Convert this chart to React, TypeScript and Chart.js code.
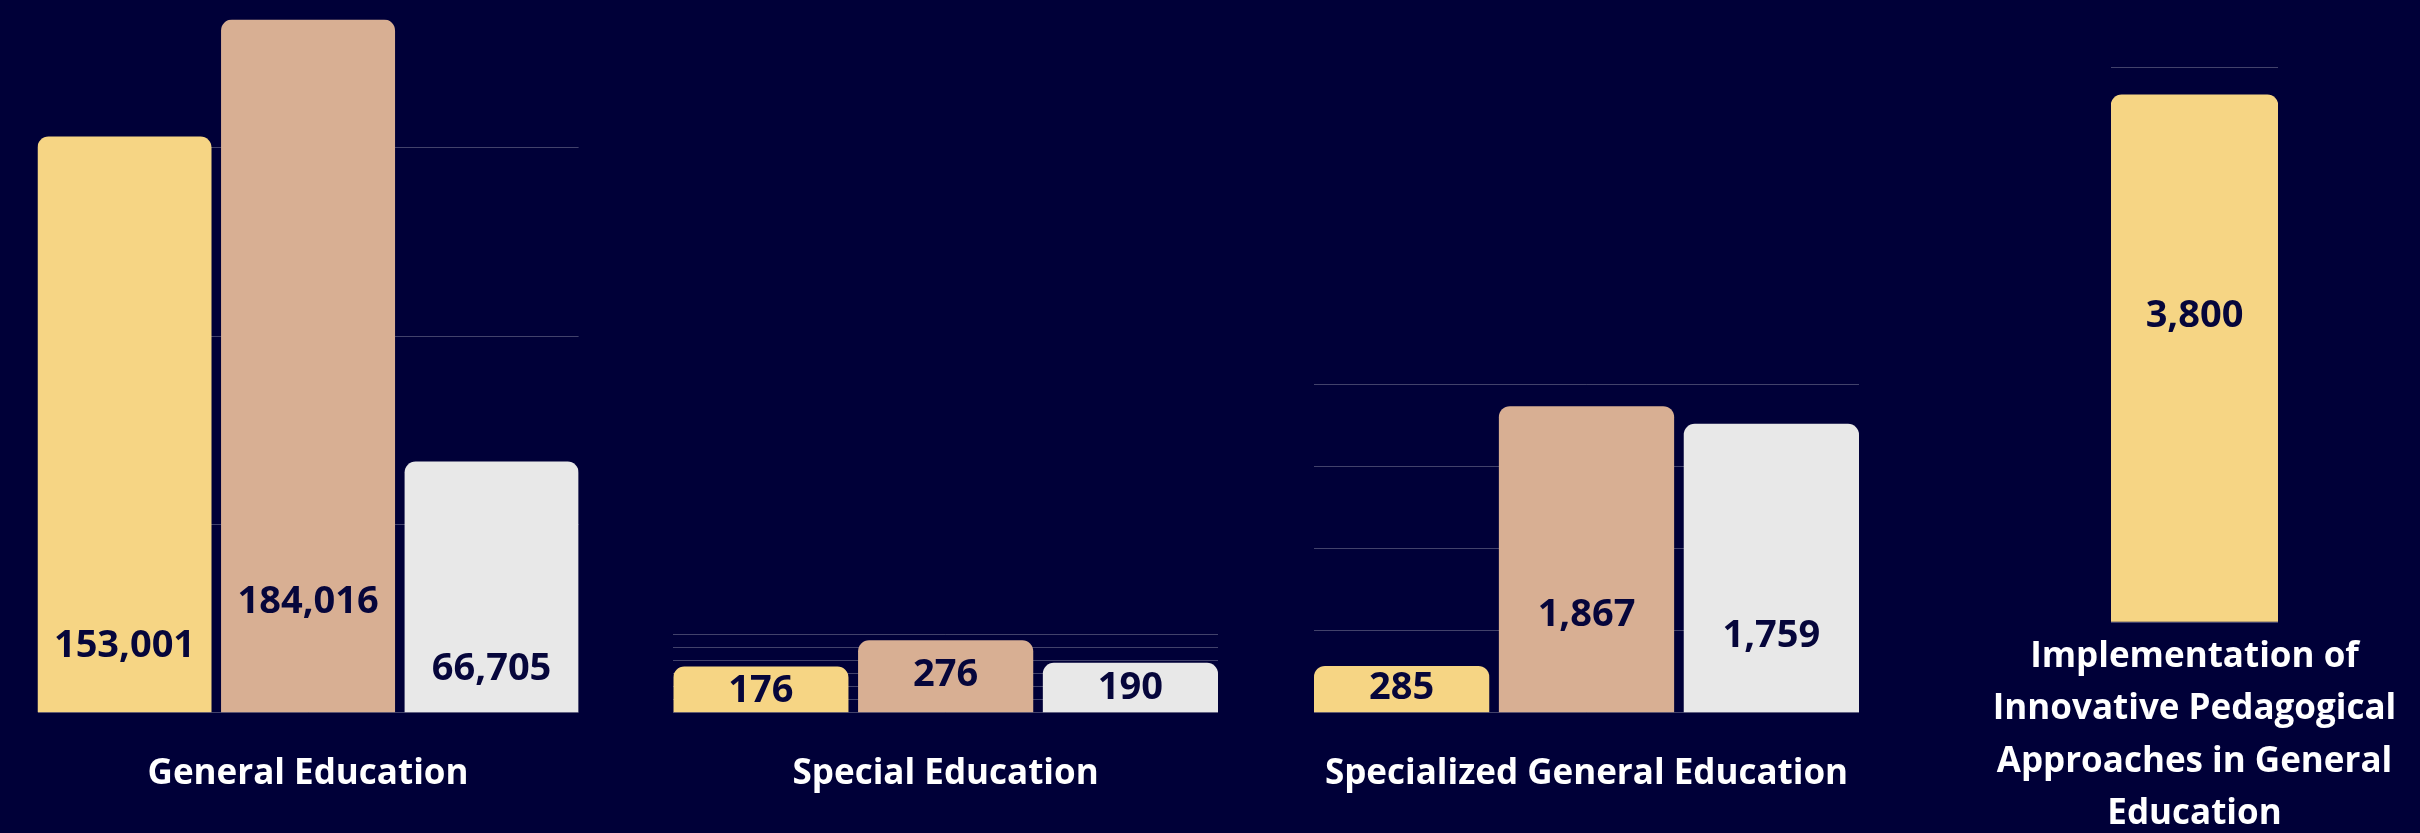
import React, { useEffect, useRef } from "react";
import { Chart, registerables } from "chart.js";

Chart.register(...registerables);

// ---------- data ----------
const seriesColors = ["#F6D584", "#D8AF93", "#E8E8E8"];

const generalCategories = ["General Education"];
const generalValues = [153001, 184016, 66705];

const specialCategories = ["Special Education"];
const specialValues = [176, 276, 190];

const specializedCategories = ["Specialized General Education"];
const specializedValues = [285, 1867, 1759];

const innovativeCategories = [["Implementation of", "Innovative Pedagogical", "Approaches in General", "Education"]];
const innovativeValues = [3800];

// ---------- style / layout ----------
const BG = "#000038";
const GRID = "rgba(255,255,255,0.26)";
const VALUE_TEXT = "#06063b";
const FONT = "'Open Sans', 'Noto Sans', sans-serif";
const LABEL_SIZE = 35;
const VALUE_SIZE = 38;
const LINE_HEIGHT = 52.5;
const GAP_RATIO = 0.052;
const CANVAS_H = 1000;
const AXIS_H = 260;

type Panel = {
  categories: (string | string[])[];
  values: number[];
  colors: string[];
  yMax: number;
  yStep: number;
  left: number;
  right: number;
  top: number;
  bottom: number;
  canvasLeft: number;
  canvasRight: number;
  tickPad: number;
  labelAt: number[]; // fraction of bar height where value label sits
};

const panels: Panel[] = [
  {
    categories: generalCategories,
    values: generalValues,
    colors: seriesColors,
    yMax: Math.max(...generalValues),
    yStep: 50000,
    left: 37.5,
    right: 578.6,
    top: 19.6,
    bottom: 712.7,
    canvasLeft: 0,
    canvasRight: 625,
    tickPad: 35.5,
    labelAt: [0.12, 0.163, 0.181],
  },
  {
    categories: specialCategories,
    values: specialValues,
    colors: seriesColors,
    yMax: 300,
    yStep: 50,
    left: 673.3,
    right: 1218,
    top: 634,
    bottom: 712.7,
    canvasLeft: 630,
    canvasRight: 1262,
    tickPad: 35.5,
    labelAt: [0.517, 0.553, 0.547],
  },
  {
    categories: specializedCategories,
    values: specializedValues,
    colors: seriesColors,
    yMax: 2000,
    yStep: 500,
    left: 1314,
    right: 1859,
    top: 384.3,
    bottom: 712.7,
    canvasLeft: 1268,
    canvasRight: 1905,
    tickPad: 35.5,
    labelAt: [0.577, 0.327, 0.273],
  },
  {
    categories: innovativeCategories,
    values: innovativeValues,
    colors: [seriesColors[0]],
    yMax: 4000,
    yStep: 1000,
    left: 2111,
    right: 2278,
    top: 67,
    bottom: 622,
    canvasLeft: 1911,
    canvasRight: 2420,
    tickPad: 8.5,
    labelAt: [0.584],
  },
];

const valueLabelPlugin = {
  id: "valueLabels",
  afterDatasetsDraw(chart: any, _args: any, opts: any) {
    const ctx = chart.ctx;
    const at: number[] = opts.labelAt || [];
    ctx.save();
    ctx.font = `bold ${VALUE_SIZE}px ${FONT}`;
    ctx.fillStyle = VALUE_TEXT;
    ctx.textAlign = "center";
    ctx.textBaseline = "alphabetic";
    const asc = ctx.measureText("0").actualBoundingBoxAscent;
    chart.data.datasets.forEach((ds: any, di: number) => {
      const meta = chart.getDatasetMeta(di);
      meta.data.forEach((bar: any, idx: number) => {
        const v = ds.data[idx];
        if (v == null) return;
        const f = at[di] ?? 0.5;
        const cy = bar.base - f * (bar.base - bar.y);
        ctx.fillText(Number(v).toLocaleString("en-US"), bar.x, cy + asc / 2);
      });
    });
    ctx.restore();
  },
};

function PanelChart({ p }: { p: Panel }) {
  const ref = useRef<HTMLCanvasElement>(null);
  const width = p.canvasRight - p.canvasLeft;
  useEffect(() => {
    const canvas = ref.current;
    if (!canvas) return;
    const n = p.values.length;
    const b = n > 1 ? 1 - GAP_RATIO : 1;
    const c = n / (n - 1 + b);
    const chart = new Chart(canvas, {
      type: "bar",
      data: {
        labels: p.categories as any,
        datasets: p.values.map((v, i) => ({
          label: `series ${i + 1}`,
          data: [v],
          backgroundColor: p.colors[i],
          borderWidth: 0,
          borderRadius: 11,
          borderSkipped: "start",
          barPercentage: b,
          categoryPercentage: c,
        })),
      },
      options: {
        responsive: false,
        maintainAspectRatio: false,
        animation: false,
        layout: {
          padding: {
            left: p.left - p.canvasLeft,
            right: p.canvasRight - p.right,
            top: p.top,
            bottom: CANVAS_H - p.bottom - AXIS_H,
          },
        },
        plugins: {
          legend: { display: false },
          tooltip: { enabled: false },
          valueLabels: { labelAt: p.labelAt },
        } as any,
        scales: {
          x: {
            grid: { display: false, drawTicks: false },
            border: { display: false },
            ticks: {
              color: "#ffffff",
              font: { family: FONT, size: LABEL_SIZE, weight: "bold", lineHeight: LINE_HEIGHT / LABEL_SIZE },
              padding: p.tickPad,
              maxRotation: 0,
              minRotation: 0,
              autoSkip: false,
            },
            afterFit: (s: any) => {
              s.height = AXIS_H;
              s.paddingLeft = 0;
              s.paddingRight = 0;
            },
          },
          y: {
            min: 0,
            max: p.yMax,
            grid: { color: GRID, lineWidth: 1, drawTicks: false },
            border: { display: false },
            ticks: { display: false },
            afterBuildTicks: (s: any) => {
              const t: { value: number }[] = [];
              for (let v = 0; v <= p.yMax + 1e-9; v += p.yStep) t.push({ value: v });
              s.ticks = t;
            },
          },
        },
      } as any,
      plugins: [valueLabelPlugin],
    });
    return () => chart.destroy();
  }, []);
  return (
    <canvas
      ref={ref}
      width={width}
      height={CANVAS_H}
      style={{ position: "absolute", left: p.canvasLeft, top: 0, width, height: CANVAS_H }}
    />
  );
}

export default function App() {
  return (
    <div
      style={{
        position: "fixed",
        left: 0,
        top: 0,
        width: 2420,
        height: 833,
        background: BG,
        overflow: "hidden",
      }}
    >
      {panels.map((p, i) => (
        <PanelChart key={i} p={p} />
      ))}
    </div>
  );
}
